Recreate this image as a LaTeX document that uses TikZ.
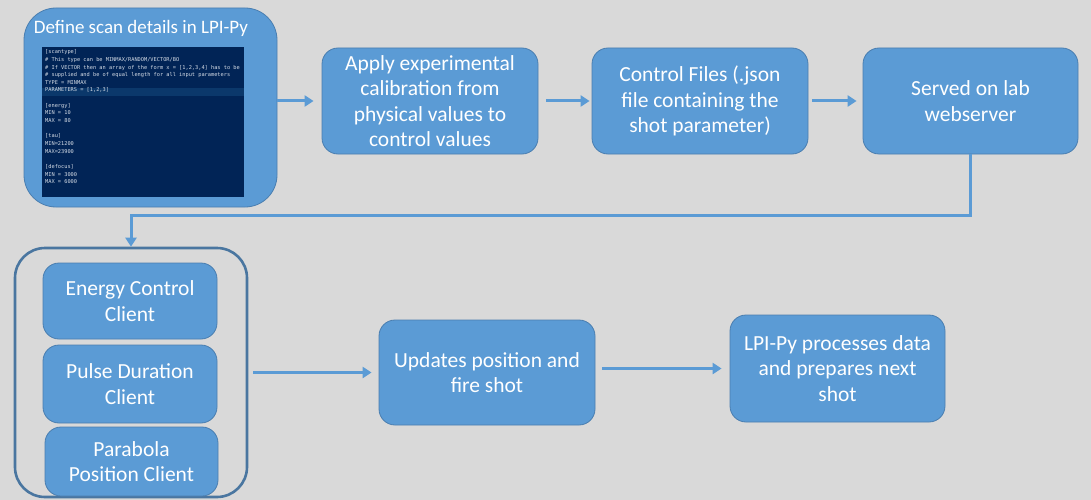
\documentclass[tikz,border=0pt]{standalone}
\usepackage{fontspec}
\setmainfont{Carlito}
\newfontfamily\codefont{DejaVu Sans Mono}
\usetikzlibrary{arrows.meta}

\definecolor{bgc}{HTML}{D9D9D9}
\definecolor{boxfill}{HTML}{5B9BD5}
\definecolor{boxline}{HTML}{4A7EB0}
\definecolor{frameline}{HTML}{4A76A0}
\definecolor{codebg}{HTML}{012456}
\definecolor{codehl}{HTML}{0B386B}
\definecolor{codetext}{HTML}{D5DCE6}

\tikzset{
  stepbox/.style={draw=boxline, line width=0.8pt, fill=boxfill, rounded corners=16pt,
    text=white, align=center, inner sep=2pt,
    font=\fontsize{21.5}{25.5}\selectfont},
  flow/.style={draw=boxfill, line width=3pt,
    -{Triangle[length=9pt,width=11pt]}},
}

\begin{document}
\begin{tikzpicture}[x=1pt,y=-1pt]
  \fill[bgc] (0,0) rectangle (1091,500);
  \useasboundingbox (0,0) rectangle (1091,500);

  % scan definition box with the configuration listing
  \node[stepbox, rounded corners=32pt, minimum width=253pt, minimum height=199pt]
    (scan) at (150.5,107.5) {};
  \node[text=white, font=\fontsize{19}{22}\selectfont] (title) at (141,28)
    {Define scan details in LPI-Py};
  \node[fill=codebg, minimum width=202pt, minimum height=150pt, inner sep=0pt]
    (panel) at (143,122) {};
  \fill[codehl] (panel.west |- 0,88) rectangle (panel.east |- 0,96.5);
  \node[anchor=north west, inner sep=0pt, text=codetext, align=left,
        font=\codefont\fontsize{5.3}{7.65}\selectfont] (code) at (45,49.5)
    {{[scantype]}\\
     \# This type can be MINMAX/RANDOM/VECTOR/BO\\
     \# If VECTOR then an array of the form x = [1,2,3,4] has to be\\
     \# supplied and be of equal length for all input parameters\\
     TYPE = MINMAX\\
     PARAMETERS = [1,2,3]\\
     \mbox{}\\
     {[energy]}\\
     MIN = 10\\
     MAX = 80\\
     \mbox{}\\
     {[tau]}\\
     MIN=21200\\
     MAX=23900\\
     \mbox{}\\
     {[defocus]}\\
     MIN = 3000\\
     MAX = 6000};

  % top row
  \node[stepbox, minimum width=216pt, minimum height=106pt] (calib) at (430,101)
    {Apply experimental\\calibration from\\physical values to\\control values};
  \node[stepbox, minimum width=216pt, minimum height=106pt] (files) at (700,101)
    {Control Files (.json\\file containing the\\shot parameter)};
  \node[stepbox, minimum width=215pt, minimum height=106pt] (serve) at (970.5,101)
    {Served on lab\\webserver};

  % group of control clients
  \node[draw=frameline, line width=2.6pt, rounded corners=30pt,
        minimum width=232pt, minimum height=249pt] (clients) at (131,372.5) {};
  \node[stepbox, minimum width=174pt, minimum height=76pt] (energy) at (130,301)
    {Energy Control\\Client};
  \node[stepbox, minimum width=174pt, minimum height=78pt] (pulse) at (130,384)
    {Pulse Duration\\Client};
  \node[stepbox, minimum width=173pt, minimum height=69pt] (parab) at (131.5,461.5)
    {Parabola\\Position Client};

  % bottom row
  \node[stepbox, minimum width=216pt, minimum height=105pt] (fire) at (487,372.5)
    {Updates position and\\fire shot};
  \node[stepbox, minimum width=215pt, minimum height=107pt] (proc) at (837.5,368.5)
    {LPI-Py processes data\\and prepares next\\shot};

  % connectors
  \draw[flow, shorten >=8pt] (scan.east |- calib.west) -- (calib.west);
  \draw[flow, shorten <=8pt, shorten >=2pt] (calib) -- (files);
  \draw[flow, shorten <=4pt, shorten >=6pt] (files) -- (serve);
  \draw[flow] (serve.south) -- ++(0,61) -| (clients.north);
  \draw[flow, shorten <=5pt, shorten >=7pt] (clients.east |- fire.west) -- (fire.west);
  \draw[flow, shorten <=7pt, shorten >=8pt] (fire.east |- proc.west) -- (proc.west);
\end{tikzpicture}
\end{document}
